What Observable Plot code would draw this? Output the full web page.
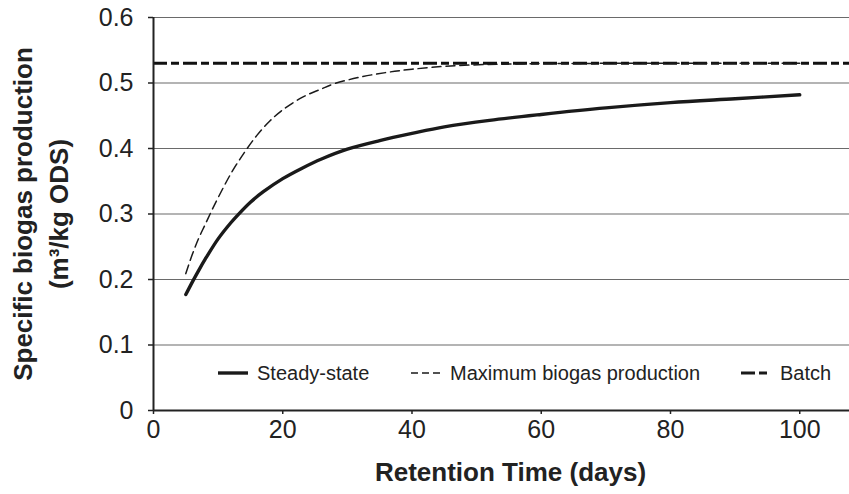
<!DOCTYPE html>
<html>
<head>
<meta charset="utf-8">
<script src="https://cdn.jsdelivr.net/npm/d3@7"></script>
<script src="https://cdn.jsdelivr.net/npm/@observablehq/plot@0.6"></script>
<style>
  html, body { margin: 0; padding: 0; background: #fff; }
  #wrap { position: relative; width: 849px; height: 494px; font-family: "Liberation Sans", Arial, sans-serif; color: #222; }
  .leg { position: absolute; top: 362px; height: 22px; display: flex; align-items: center; font-size: 20px; white-space: nowrap; }
  .leg svg { margin-right: 9px; }
</style>
</head>
<body>
<div id="wrap"></div>
<script>
// ---- data ----
const steadyDays = [5, 6, 7, 8, 10, 12, 13, 15, 17, 20, 23, 26, 30, 35, 40, 45, 52, 60, 70, 80, 90, 100];
const steadyYield = [0.177, 0.196, 0.214, 0.231, 0.262, 0.287, 0.298, 0.318, 0.334, 0.354, 0.370, 0.384, 0.399, 0.412, 0.423, 0.433, 0.443, 0.452, 0.462, 0.470, 0.476, 0.482];
const maxDays = [5, 6, 7, 8, 9, 10, 12, 14, 16, 18, 20, 23, 26, 28, 32, 36, 40, 46, 55, 70, 85, 100];
const maxYield = [0.209, 0.238, 0.263, 0.284, 0.305, 0.325, 0.362, 0.393, 0.420, 0.442, 0.459, 0.478, 0.491, 0.499, 0.509, 0.516, 0.521, 0.526, 0.529, 0.530, 0.530, 0.530];
const batchYield = [0.53];
const xTicks = [0, 20, 40, 60, 80, 100];
const yTicks = [0, 0.1, 0.2, 0.3, 0.4, 0.5, 0.6];
const yTickLabels = ["0", "0.1", "0.2", "0.3", "0.4", "0.5", "0.6"];
const seriesNames = ["Steady-state", "Maximum biogas production", "Batch"];
const xTitle = "Retention Time (days)";
const yTitle1 = "Specific biogas production";
const yTitle2 = "(m\u00B3/kg ODS)";

const steady = steadyDays.map((d, i) => ({x: d, y: steadyYield[i]}));
const maxi = maxDays.map((d, i) => ({x: d, y: maxYield[i]}));

const chart = Plot.plot({
  width: 849,
  height: 494,
  marginLeft: 153,
  marginRight: 0,
  marginTop: 17,
  marginBottom: 84,
  style: {fontFamily: "'Liberation Sans', Arial, sans-serif", color: "#222", background: "#fff"},
  x: {domain: [0, 107.7], axis: null},
  y: {domain: [0, 0.6], axis: null},
  marks: [
    Plot.ruleY(yTicks.filter(d => d > 0), {stroke: "#6a6a6a", strokeWidth: 1.2}),
    Plot.ruleY(batchYield, {stroke: "#111", strokeWidth: 3, strokeDasharray: "14,4,8,4"}),
    Plot.line(maxi, {x: "x", y: "y", stroke: "#1a1a1a", strokeWidth: 1.5, strokeDasharray: "9,5", curve: "catmull-rom"}),
    Plot.line(steady, {x: "x", y: "y", stroke: "#1a1a1a", strokeWidth: 3.4, strokeLinecap: "round", curve: "catmull-rom"}),
    Plot.ruleX([0], {stroke: "#222", strokeWidth: 2}),
    Plot.ruleY([0], {stroke: "#222", strokeWidth: 2}),
    Plot.axisY(yTicks, {label: null, tickSize: 5, tickPadding: 15, tickFormat: (d, i) => yTickLabels[i], fontSize: 25, stroke: "#222", strokeWidth: 1.5}),
    Plot.axisX(xTicks, {label: null, tickSize: 4, tickPadding: 6, fontSize: 25, stroke: "#222", strokeWidth: 1.5}),
    Plot.text([xTitle], {frameAnchor: "bottom", textAnchor: "middle", lineAnchor: "middle", dy: 62, dx: 9, fontSize: 26, fontWeight: "bold", fill: "#222"}),
    Plot.text([yTitle1], {frameAnchor: "left", textAnchor: "middle", lineAnchor: "middle", rotate: -90, dx: -130, fontSize: 26, fontWeight: "bold", fill: "#222"}),
    Plot.text([yTitle2], {frameAnchor: "left", textAnchor: "middle", lineAnchor: "middle", rotate: -90, dx: -94, fontSize: 26, fontWeight: "bold", fill: "#222"})
  ]
});

const wrap = document.getElementById("wrap");
wrap.appendChild(chart);

// legend (inside plot area)
const legendItems = [
  {name: seriesNames[0], left: 218, w: 30, sw: 3.4, dash: null},
  {name: seriesNames[1], left: 411, w: 30, sw: 1.5, dash: "7,4"},
  {name: seriesNames[2], left: 741, w: 30, sw: 3, dash: "14,4,8,4"}
];
for (const it of legendItems) {
  const div = document.createElement("div");
  div.className = "leg";
  div.style.left = it.left + "px";
  div.innerHTML = `<svg width="${it.w}" height="10"><line x1="0" x2="${it.w}" y1="5" y2="5" stroke="#1a1a1a" stroke-width="${it.sw}" ${it.dash ? `stroke-dasharray="${it.dash}"` : ""}/></svg><span>${it.name}</span>`;
  wrap.appendChild(div);
}
</script>
</body>
</html>
